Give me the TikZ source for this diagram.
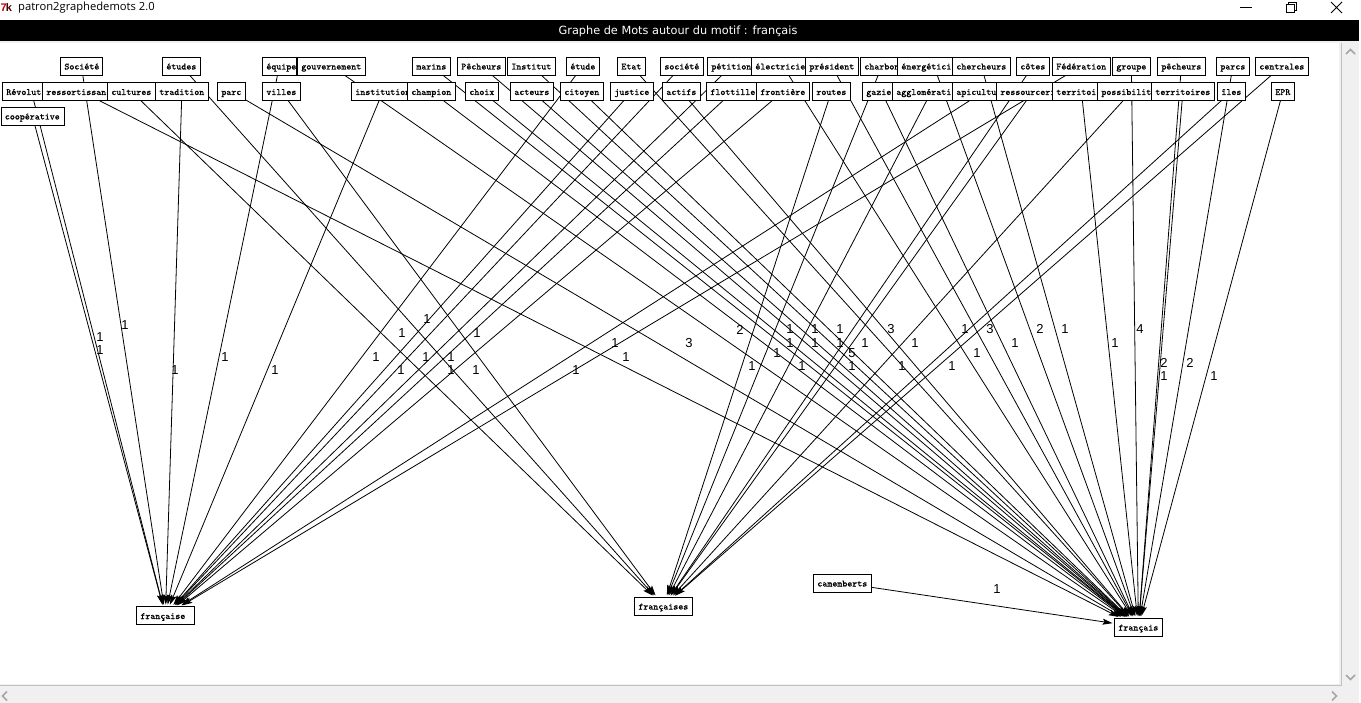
\documentclass[tikz,border=0pt]{standalone}
\usepackage{fontspec}
\usepackage{tikz}
\usetikzlibrary{arrows.meta,backgrounds}
\setsansfont{Liberation Sans}
\newfontfamily\titlefont{DejaVu Sans}
\newfontfamily\winfont{Open Sans}
\newfontfamily\wordfont[RawFeature={embolden=0.6}]{Latin Modern Mono}
\definecolor{barcol}{HTML}{F0F0F0}
\definecolor{chevcol}{HTML}{A6A6A6}
\tikzset{
	wordbox/.style={draw=black,fill=white,line width=.8pt,anchor=west,align=left,inner xsep=4pt,inner ysep=4.5pt,text height=8pt,text depth=1pt,font=\wordfont\fontsize{9.5}{10}\selectfont},
	edgeline/.style={line width=.8pt,-{Stealth[length=10pt,width=6pt,inset=2pt]},shorten >=1.5pt},
	weight/.style={font=\sffamily\fontsize{13}{13}\selectfont,inner sep=0pt},
	chevron/.style={draw=chevcol,line width=1.6pt}
}
\begin{document}
\begin{tikzpicture}[x=1pt,y=-1pt]
\useasboundingbox (0,0) rectangle (1361,703);
\foreach \nm/\lab/\xl/\yy/\tw in {
	Societe/Société/60/66/34,etudes/études/162/66/30,equipe/équipe/262/66/26,gouvernement/gouvernement/297/66/60,
	marins/marins/412/66/30,PecheursA/Pêcheurs/457/66/40,Institut/Institut/507/66/40,etude/étude/566/66/25,
	Etat/Etat/617/66/20,societe/société/660/66/35,petition/pétition/707/66/40,electricie/électricie/751/66/55,
	president/président/805/66/45,charbon/charbon/860/66/35,energetici/énergétici/897/66/65,chercheurs/chercheurs/952/66/50,
	cotes/côtes/1016/66/25,Federation/Fédération/1052/66/50,groupe/groupe/1112/66/30,pecheurs/pêcheurs/1157/66/40,
	parcs/parcs/1216/66/25,centrales/centrales/1255/66/45,
	Revolut/Révolut/2/91.5/50,ressortissan/ressortissan/42/91.5/70,cultures/cultures/107/91.5/40,tradition/tradition/155/91.5/45,
	parc/parc/217/91.5/20,villes/villes/262/91.5/30,institution/institution/351/91.5/55,champion/champion/407/91.5/40,
	choix/choix/465/91.5/25,acteurs/acteurs/510/91.5/35,citoyen/citoyen/560/91.5/35,justice/justice/610/91.5/35,
	actifs/actifs/662/91.5/30,flottille/flottille/706/91.5/45,frontiere/frontière/756/91.5/45,routes/routes/812/91.5/30,
	gazier/gazie/862/91.5/30,agglomerati/agglomérati/892/91.5/70,apicultu/apicultu/952/91.5/55,ressourceri/ressourceri/996/91.5/65,
	territoi/territoi/1052/91.5/50,possibilit/possibilit/1097/91.5/60,territoires/territoires/1151/91.5/55,iles/îles/1217/91.5/20,
	EPR/EPR/1271/91.5/15,
	cooperative/coopérative/0.5/116/55,
	camemberts/camemberts/813/583/50,francaise/française/136/615.5/50,francaises/françaises/634/606/50,francais/français/1114/627/40}
{
	\node[wordbox,text width=\tw pt] (\nm) at (\xl,\yy) {\lab};
}
\foreach \xx/\yy/\val [count=\i] in {
	125/325/1,100/337/1,100/350/1,175/370/1,225/357/1,275/370/1,
	427/319/1,402/333/1,477/333/1,376/357/1,426/357/1,451/357/1,401/370/1,451/370/1,476/370/1,
	615/343/1,626/357/1,576/370/1,689/343/3,
	740/330/2,790/329/1,815/329/1,840/329/1,891/329/3,965/329/1,990/329/3,
	790/343/1,815/343/1,840/343/1,865/343/1,915/343/1,1015/343/1,
	777/353/1,852/353/5,977/353/1,752/366/1,802/366/1,852/366/1,902/366/1,952/366/1,
	1040/329/2,1065/329/1,1140/329/4,1115/343/1,1164/363/2,1164/376/1,1190/363/2,1214/376/1,997/589/1}
{
	\node[weight] (w\i) at (\xx,\yy) {\val};
}
% window
\node[font=\winfont\fontsize{11.2}{12}\selectfont,anchor=west,inner sep=0pt] (wintitle) at (18,7.5) {patron2graphedemots 2.0};
\node[font=\sffamily\bfseries\fontsize{11}{12}\selectfont,anchor=west,inner sep=0pt] (winicon) at (0.5,7.5) {\textcolor{red!75!black}{7}\kern-1pt\textcolor{black!70!red}{k}};
\node[font=\titlefont\fontsize{11.3}{12}\selectfont,text=white,inner sep=0pt] (titre) at (678,31.5) {Graphe de Mots autour du motif : français};
\begin{pgfonlayer}{background}
\fill[barcol] (0,41) rectangle (1359,703);
\fill[white] (0,43) rectangle (1339,684);
\fill[black] (0,20) rectangle (1359,41);
\fill[white] (1359,0) rectangle (1361,703);
\draw[chevcol!70,line width=.8pt] (0,685) -- (1341,685) -- (1341,43);
\draw[chevron] (1346,54) -- (1350.5,49.5) -- (1355,54);
\draw[chevron] (1346,675) -- (1350.5,679.5) -- (1355,675);
\draw[chevron] (1332,691.5) -- (1336.5,696) -- (1332,700.5);
\draw[chevron] (7,691.5) -- (2.5,696) -- (7,700.5);
\draw[black,line width=.8pt] (1240,7.5) -- (1252,7.5);
\draw[black,line width=.8pt] (1286,4) rectangle (1294,12);
\draw[black,line width=.8pt] (1288,4) -- (1288,2) -- (1296,2) -- (1296,10) -- (1294,10);
\draw[black,line width=.8pt] (1331,2) -- (1342,13) (1342,2) -- (1331,13);
\foreach \src in {cooperative,Revolut,Societe,tradition,equipe,institution,etude,justice,societe,petition,flottille,frontiere,apicultu,Federation}
{
	\draw[edgeline] (\src) -- (francaise);
}
\foreach \src in {cultures,etudes,villes,routes,charbon,agglomerati,cotes,ressourceri,possibilit,iles,centrales}
{
	\draw[edgeline] (\src) -- (francaises);
}
\foreach \src in {ressortissan,parc,gouvernement,marins,champion,choix,PecheursA,Institut,acteurs,citoyen,Etat,actifs,electricie,president,gazier,energetici,chercheurs,territoi,groupe,pecheurs,territoires,parcs,EPR,camemberts}
{
	\draw[edgeline] (\src) -- (francais);
}
\end{pgfonlayer}
\end{tikzpicture}
\end{document}
